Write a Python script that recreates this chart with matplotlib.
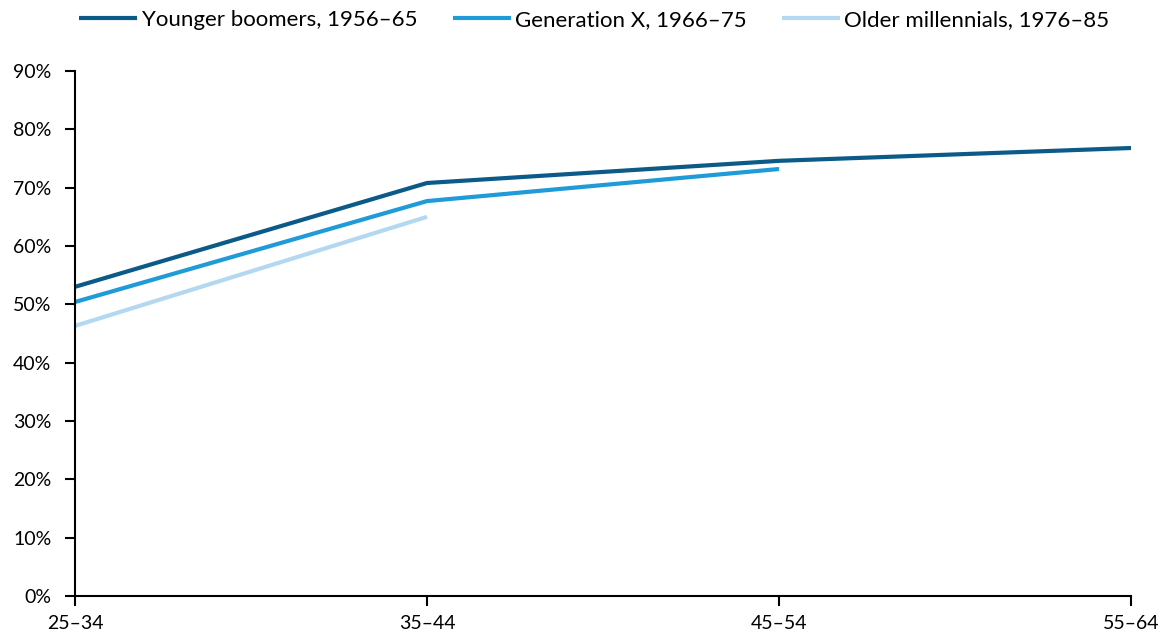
import matplotlib
matplotlib.use("Agg")
import matplotlib.pyplot as plt
from matplotlib.ticker import PercentFormatter

plt.rcParams['font.family'] = ['Lato', 'DejaVu Sans']

age_groups = ['25–34', '35–44', '45–54', '55–64']
boomers = [53.0, 70.8, 74.6, 76.8]
gen_x = [50.4, 67.7, 73.2]
millennials = [46.3, 65.0]

series = [
    ('Younger boomers, 1956–65', boomers, '#0b5a88'),
    ('Generation X, 1966–75', gen_x, '#1f9bd7'),
    ('Older millennials, 1976–85', millennials, '#b3d8f0'),
]

fig = plt.figure(figsize=(11.67, 6.39), dpi=100)
ax = fig.add_axes([75 / 1167, 43 / 639, 1056 / 1167, 525 / 639])

for label, values, color in series:
    ax.plot(range(len(values)), values, color=color, lw=3, label=label,
            solid_capstyle='butt')

ax.set_xlim(0, len(age_groups) - 1)
ax.set_ylim(0, 90)
ax.set_xticks(range(len(age_groups)))
ax.set_xticklabels(age_groups)
ax.set_yticks(range(0, 91, 10))
ax.yaxis.set_major_formatter(PercentFormatter(decimals=0))
ax.tick_params(axis='both', labelsize=14, length=7, width=1.5, color='black',
               labelcolor='black')
ax.tick_params(axis='x', pad=7)
ax.tick_params(axis='y', pad=10)

for side in ['top', 'right']:
    ax.spines[side].set_visible(False)
for side in ['left', 'bottom']:
    ax.spines[side].set_linewidth(1.5)
    ax.spines[side].set_color('black')

fig.legend(loc='center', bbox_to_anchor=(594.5 / 1167, 1 - 20 / 639), ncol=3,
           frameon=False, fontsize=16, handlelength=2.6, handletextpad=0.2,
           columnspacing=1.6, borderpad=0, borderaxespad=0)

fig.savefig('out.png', dpi=100)
